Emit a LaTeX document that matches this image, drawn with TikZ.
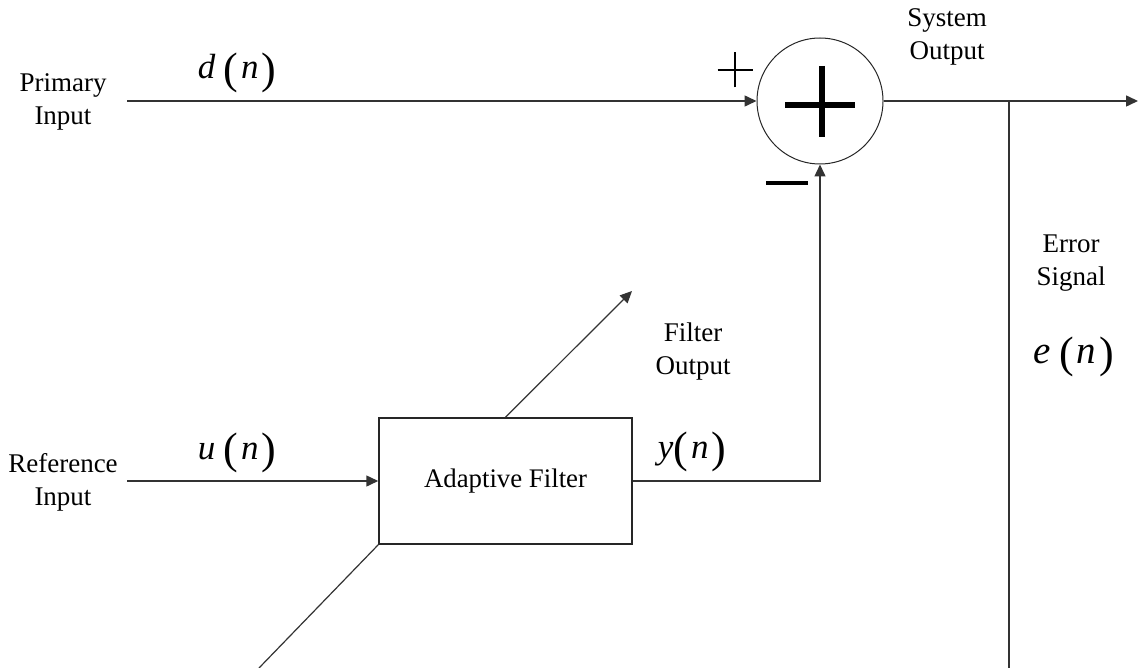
\documentclass[tikz,border=0pt]{standalone}
\usepackage{fontspec}
\setmainfont{Liberation Serif}
\usetikzlibrary{arrows.meta,positioning}
% signal name with tall brackets round n
\newcommand{\sigof}[3]{\textit{#1}\hspace{#2}\raisebox{-#3}{\fontsize{22}{22}\selectfont(}\hspace{1.5pt}\textit{n}\hspace{1.5pt}\raisebox{-#3}{\fontsize{22}{22}\selectfont)}}
\begin{document}
\begin{tikzpicture}[x=0.5pt, y=-0.5pt, >={Triangle[length=6pt,width=5.5pt]},
          sig/.style={draw=black!80, line width=0.75pt},
          lbl/.style={font=\fontsize{13.5}{16.5}\selectfont, align=center, inner sep=0pt},
          var/.style={font=\fontsize{17.5}{20}\selectfont, inner sep=0pt, anchor=base},
          filterbox/.style={draw=black!85, line width=0.75pt, minimum width=126.5pt, minimum height=63pt,
            font=\fontsize{13.4}{16}\selectfont},
          sumnode/.style={circle, draw=black!85, line width=0.5pt, minimum size=63pt, inner sep=0pt}]
        \useasboundingbox (0,0) rectangle (1139,668);
        % upper branch: primary input into the summing junction
        \node[lbl] (pin) at (63,102) {Primary\\Input};
        \coordinate (din) at (127,101);
        \node[var] (dlab) at (237,79) {\sigof{d}{4pt}{2.4pt}};
        \node[sumnode] (sum) at (820,101) {};
        \draw[sig, ->] (din) -- (sum.west);
        % big plus inside the circle, small sign labels beside it
        \draw[line width=2.6pt] ([xshift=-17.5pt, yshift=-2pt]sum.center) -- ([xshift=17.5pt, yshift=-2pt]sum.center);
        \draw[line width=2.6pt] ([xshift=1pt, yshift=17.5pt]sum.center) -- ([xshift=1pt, yshift=-18pt]sum.center);
        \coordinate (plus) at (735,70);
        \draw[line width=1pt] ([xshift=-8.75pt]plus) -- ([xshift=8.75pt]plus);
        \draw[line width=1pt] ([yshift=-8.75pt]plus) -- ([yshift=8.75pt]plus);
        \coordinate (minus) at (787,183);
        \draw[line width=2pt] ([xshift=-10.5pt]minus) -- ([xshift=10.5pt]minus);
        % system output and error tap
        \node[lbl] (sysout) at (947,37) {System\\Output};
        \coordinate (out) at (1138,101);
        \coordinate (tap) at (1009,101);
        \coordinate (eend) at (1009,668);
        \draw[sig, ->] (sum.east) -- (out);
        \draw[sig] (tap) -- (eend);
        \node[lbl] (errsig) at (1071,263) {Error\\Signal};
        \node[var, font=\fontsize{19.5}{22}\selectfont] (elab) at (1074,363) {\sigof{e}{4pt}{2.4pt}};
        % lower branch: reference input through the adaptive filter
        \node[lbl] (rin) at (63,482) {Reference\\Input};
        \coordinate (uin) at (127,481);
        \node[var] (ulab) at (237,459) {\sigof{u}{4pt}{2.4pt}};
        \node[filterbox] (filter) at (505.5,481) {Adaptive Filter};
        \draw[sig, ->] (uin) -- (filter.west);
        \node[var] (ylab) at (692,458) {\sigof{y}{0pt}{2.4pt}};
        \draw[sig, ->] (filter.east) -| (sum.south);
        % adaptation arrow across the filter
        \coordinate (adtop) at (632,291);
        \coordinate (adbot) at (259,668);
        \draw[sig, line width=0.6pt, ->] (filter.north) -- (adtop);
        \draw[sig, line width=0.6pt] (filter.south west) -- (adbot);
        \node[lbl] (fout) at (693,352) {Filter\\Output};
      \end{tikzpicture}
\end{document}
